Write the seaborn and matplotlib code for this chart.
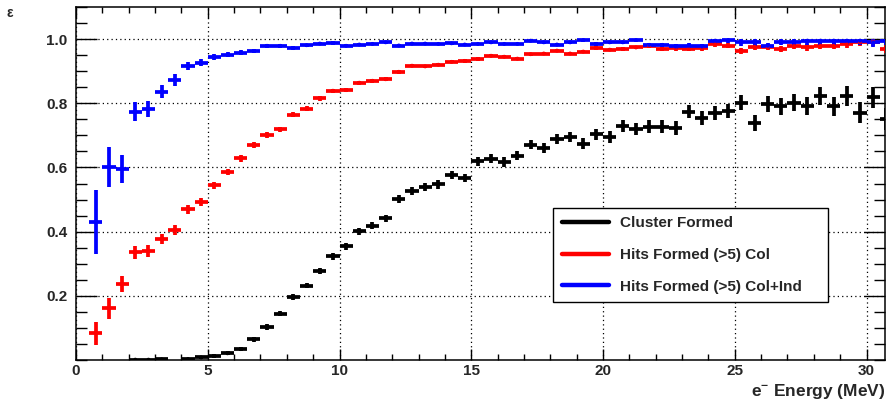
import numpy as np
import pandas as pd
import seaborn as sns
import matplotlib.pyplot as plt
from matplotlib.lines import Line2D
from matplotlib.ticker import MultipleLocator, FixedLocator

nan = np.nan

# ---- data (bin centres in MeV, bin width 0.5 MeV) ----
energy = [0.75, 1.25, 1.75, 2.25, 2.75, 3.25, 3.75, 4.25, 4.75,
          5.25, 5.75, 6.25, 6.75, 7.25, 7.75, 8.25, 8.75, 9.25, 9.75, 10.25,
          10.75, 11.25, 11.75, 12.25, 12.75, 13.25, 13.75, 14.25, 14.75, 15.25,
          15.75, 16.25, 16.75, 17.25, 17.75, 18.25, 18.75, 19.25, 19.75, 20.25,
          20.75, 21.25, 21.75, 22.25, 22.75, 23.25, 23.75, 24.25, 24.75, 25.25,
          25.75, 26.25, 26.75, 27.25, 27.75, 28.25, 28.75, 29.25, 29.75, 30.25, 30.75]
bin_half_width = 0.25

cluster_eff = [nan, nan, nan, 0.001, 0.001, 0.002, nan, 0.003, 0.008,
               0.0125, 0.021, 0.034, 0.064, 0.103, 0.144, 0.196, 0.232, 0.278, 0.323, 0.354,
               0.401, 0.419, 0.441, 0.502, 0.526, 0.539, 0.547, 0.576, 0.568, 0.620,
               0.627, 0.617, 0.637, 0.671, 0.660, 0.688, 0.695, 0.674, 0.703, 0.695,
               0.729, 0.721, 0.727, 0.727, 0.723, 0.774, 0.755, 0.771, 0.776, 0.802,
               0.740, 0.797, 0.790, 0.802, 0.792, 0.823, 0.790, 0.823, 0.771, 0.818, 0.750]
cluster_err = [nan, nan, nan, 0.002, 0.002, 0.003, nan, 0.003, 0.004,
               0.005, 0.006, 0.006, 0.007, 0.008, 0.008, 0.009, 0.009, 0.010, 0.010, 0.010,
               0.011, 0.011, 0.011, 0.012, 0.012, 0.012, 0.013, 0.013, 0.013, 0.014,
               0.014, 0.015, 0.015, 0.015, 0.016, 0.016, 0.017, 0.017, 0.018, 0.018,
               0.019, 0.019, 0.020, 0.020, 0.021, 0.021, 0.022, 0.022, 0.023, 0.024,
               0.025, 0.025, 0.026, 0.027, 0.028, 0.029, 0.030, 0.031, 0.032, 0.033, 0.034]

col_eff = [0.083, 0.161, 0.236, 0.335, 0.339, 0.377, 0.406, 0.469, 0.493,
           0.545, 0.586, 0.628, 0.669, 0.701, 0.719, 0.764, 0.783, 0.815, 0.839, 0.841,
           0.864, 0.870, 0.875, 0.898, 0.917, 0.915, 0.920, 0.929, 0.932, 0.938,
           0.948, 0.945, 0.939, 0.953, 0.955, 0.964, 0.955, 0.961, 0.972, 0.967,
           0.969, 0.974, 0.979, 0.969, 0.971, 0.969, 0.971, 0.984, 0.979, 0.964,
           0.976, 0.974, 0.969, 0.979, 0.974, 0.979, 0.979, 0.984, 0.990, 0.992, 0.969]
col_err = [0.036, 0.032, 0.025, 0.020, 0.018, 0.016, 0.015, 0.013, 0.012,
           0.011, 0.010, 0.010, 0.009, 0.009, 0.008, 0.008, 0.007, 0.007, 0.006, 0.006,
           0.006, 0.006, 0.006, 0.006, 0.005, 0.005, 0.005, 0.005, 0.005, 0.005,
           0.005, 0.005, 0.005, 0.005, 0.005, 0.005, 0.005, 0.005, 0.005, 0.005,
           0.006, 0.006, 0.006, 0.007, 0.007, 0.007, 0.008, 0.008, 0.008, 0.009,
           0.009, 0.009, 0.010, 0.010, 0.010, 0.011, 0.011, 0.011, 0.012, 0.012, 0.012]

colind_eff = [0.429, 0.601, 0.596, 0.774, 0.783, 0.836, 0.872, 0.917, 0.926,
              0.943, 0.951, 0.958, 0.963, 0.979, 0.979, 0.972, 0.981, 0.986, 0.988, 0.979,
              0.983, 0.985, 0.990, 0.980, 0.986, 0.986, 0.985, 0.987, 0.983, 0.985,
              0.990, 0.985, 0.985, 0.995, 0.990, 0.983, 0.990, 0.997, 0.985, 0.990,
              0.990, 0.997, 0.982, 0.982, 0.977, 0.979, 0.977, 0.995, 0.997, 0.990,
              0.990, 0.979, 0.992, 0.990, 0.995, 0.995, 0.995, 0.995, 0.995, 0.990, 0.995]
colind_err = [0.100, 0.062, 0.043, 0.030, 0.025, 0.020, 0.018, 0.013, 0.011,
              0.009, 0.008, 0.007, 0.007, 0.006, 0.006, 0.005, 0.005, 0.005, 0.005, 0.005,
              0.004, 0.004, 0.004, 0.004, 0.004, 0.004, 0.004, 0.004, 0.004, 0.004,
              0.004, 0.004, 0.004, 0.004, 0.004, 0.005, 0.005, 0.005, 0.005, 0.005,
              0.005, 0.006, 0.006, 0.007, 0.007, 0.008, 0.008, 0.009, 0.009, 0.010,
              0.010, 0.010, 0.011, 0.011, 0.012, 0.012, 0.012, 0.013, 0.013, 0.014, 0.014]

series_names = ["Cluster Formed", "Hits Formed (>5) Col", "Hits Formed (>5) Col+Ind"]
series_colors = ["#000000", "#ff0000", "#0000ff"]
x_ticks = [0, 5, 10, 15, 20, 25, 30]
y_ticks = [0.2, 0.4, 0.6, 0.8, 1.0]

# ---- build a tidy table ----
frames = []
for name, eff, err in zip(series_names,
                          [cluster_eff, col_eff, colind_eff],
                          [cluster_err, col_err, colind_err]):
    frames.append(pd.DataFrame({"E": energy, "eff": eff, "err": err, "series": name}))
df = pd.concat(frames, ignore_index=True)

# ---- style ----
sns.set_theme(style="ticks")
plt.rcParams['font.family'] = ['Liberation Sans', 'DejaVu Sans']
plt.rcParams['font.weight'] = 'bold'
plt.rcParams['mathtext.default'] = 'regular'

W, H = 886, 400
fig = plt.figure(figsize=(W / 100, H / 100), dpi=100)
ax = fig.add_axes([76 / W, 40 / H, 809 / W, 353 / H])

palette = dict(zip(series_names, series_colors))
for name in series_names:
    sub = df[df["series"] == name].dropna()
    lo = sub["err"].to_numpy()
    hi = np.minimum(sub["err"].to_numpy(), 1.0 - sub["eff"].to_numpy())
    ax.errorbar(sub["E"], sub["eff"], xerr=bin_half_width, yerr=[lo, hi],
                fmt='none', ecolor=palette[name], elinewidth=2.7, capsize=0,
                clip_on=True, zorder=3)

sns.scatterplot(data=df.dropna(), x="E", y="eff", hue="series", palette=palette,
                s=8, linewidth=0, marker='o', legend=False, ax=ax, zorder=4)

ax.set_xlim(0, 30.7)
ax.set_ylim(0, 1.1)

ax.xaxis.set_major_locator(FixedLocator(x_ticks))
ax.xaxis.set_minor_locator(MultipleLocator(1))
ax.yaxis.set_major_locator(FixedLocator(y_ticks))
ax.yaxis.set_minor_locator(MultipleLocator(0.05))
ax.set_xticklabels([str(t) for t in x_ticks], fontsize=11, fontweight='bold')
ax.set_yticklabels([f"{t:.1f}" for t in y_ticks], fontsize=11, fontweight='bold')

ax.tick_params(axis='both', which='both', direction='in', top=True, right=True,
               color='black', width=1.0)
ax.tick_params(axis='x', which='major', length=8, pad=3)
ax.tick_params(axis='x', which='minor', length=4.3)
ax.tick_params(axis='y', which='major', length=15, pad=6)
ax.tick_params(axis='y', which='minor', length=8)

ax.grid(True, which='major', color='black', linestyle=(0, (1, 2.5)), linewidth=0.9)
for sp in ax.spines.values():
    sp.set_color('black')
    sp.set_linewidth(1.1)

ax.set_xlabel(r"e$^{-}$ Energy (MeV)", fontsize=12.5, fontweight='bold', loc='right',
              labelpad=3)
ax.set_ylabel("")
fig.text(10 / W, 1 - 13 / H, "ε", ha='center', va='center', fontsize=10)

handles = [Line2D([0], [0], color=c, lw=3.2) for c in series_colors]
leg = ax.legend(handles, series_names, loc='lower left',
                bbox_to_anchor=(0.590, 0.1643, 0.3395, 0.2663), mode='expand',
                borderaxespad=0, frameon=True, fancybox=False, shadow=False,
                handlelength=3.07, handletextpad=0.72, labelspacing=1.15, borderpad=0.55,
                prop={'weight': 'bold', 'size': 11})
leg.get_frame().set_edgecolor('black')
leg.get_frame().set_linewidth(1.0)
leg.get_frame().set_alpha(1)

fig.savefig("out.png", dpi=100)
